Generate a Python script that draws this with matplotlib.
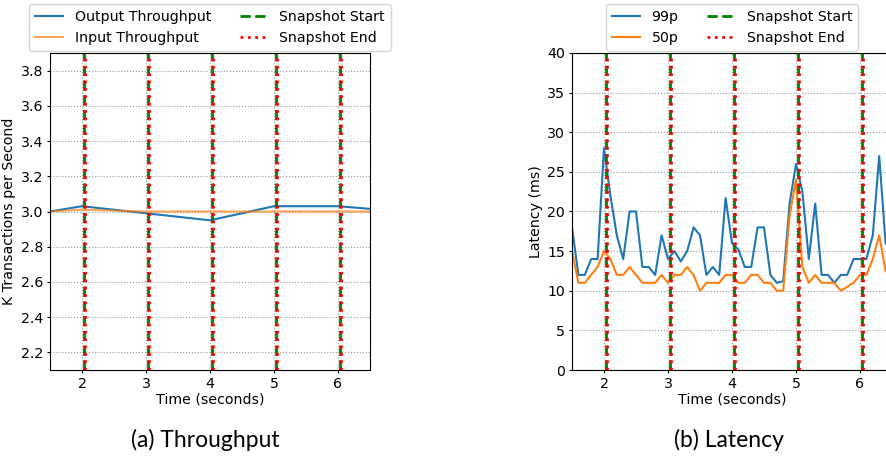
import matplotlib
matplotlib.use("Agg")
import matplotlib.pyplot as plt

# throughput, one point per second
tp_time = [1, 2, 3, 4, 5, 6, 7]
tp_output = [2.97, 3.03, 2.99, 2.95, 3.03, 3.03, 3.00]
tp_input = [2.99, 3.01, 3.00, 3.00, 3.00, 3.00, 3.00]

# latency, one point per 100 ms from 1.5 s
lat_time = [round(1.5 + 0.1 * i, 1) for i in range(51)]
lat_99 = [18, 12, 12, 14, 14, 28, 22, 17, 14, 20,
          20, 13, 13, 12, 17, 14, 15, 13.7, 15, 18,
          17, 12, 13, 12, 21.7, 16, 15.2, 13, 13, 18,
          18, 12, 11, 11.2, 21, 26, 22.5, 14, 21, 12,
          12, 11, 12, 12, 14, 14, 14, 17, 27, 16, 15]
lat_50 = [15, 11, 11, 12, 13, 15, 14, 12, 12, 13,
          12, 11, 11, 11, 12, 11, 12, 12, 13, 12,
          10, 11, 11, 11, 12, 12, 11, 11, 12, 12,
          11, 11, 10, 10, 19.5, 24, 13, 11, 12, 11,
          11, 11, 10, 10.5, 11, 12, 12, 14, 17, 12.5, 12]

snap_start = [2.025, 3.025, 4.025, 5.03, 6.03]
snap_end = [2.045, 3.04, 4.04, 5.05, 6.05]

FS = 10.2


def snapshots(ax):
    for i, (s, e) in enumerate(zip(snap_start, snap_end)):
        ax.axvline(s, color="green", linestyle="--", linewidth=2,
                   label="Snapshot Start" if i == 0 else None)
        ax.axvline(e, color="red", linestyle=":", linewidth=2,
                   label="Snapshot End" if i == 0 else None)


fig = plt.figure(figsize=(8.87, 4.61), dpi=100)
W, H = 887, 461
ax1 = fig.add_axes([50 / W, (H - 370) / H, 320 / W, 317 / H])
ax2 = fig.add_axes([572 / W, (H - 370) / H, 320 / W, 317 / H])

# (a) throughput
ax1.plot(tp_time, tp_output, color="tab:blue", linewidth=1.5, label="Output Throughput")
ax1.plot(tp_time, tp_input, color="tab:orange", alpha=0.7, linewidth=1.5, label="Input Throughput")
snapshots(ax1)
ax1.set_xlim(1.5, 6.5)
ax1.set_ylim(2.1, 3.9)
ax1.set_yticks([2.2, 2.4, 2.6, 2.8, 3.0, 3.2, 3.4, 3.6, 3.8])
ax1.set_xticks([2, 3, 4, 5, 6])
ax1.set_xlabel("Time (seconds)", fontsize=FS, labelpad=1)
ax1.set_ylabel("K Transactions per Second", fontsize=FS, labelpad=3)

# (b) latency
ax2.plot(lat_time, lat_99, color="tab:blue", linewidth=1.5, label="99p")
ax2.plot(lat_time, lat_50, color="tab:orange", linewidth=1.5, label="50p")
snapshots(ax2)
ax2.set_xlim(1.5, 6.5)
ax2.set_ylim(0, 40)
ax2.set_xticks([2, 3, 4, 5, 6])
ax2.set_xlabel("Time (seconds)", fontsize=FS, labelpad=1)
ax2.set_ylabel("Latency (ms)", fontsize=FS, labelpad=3)

for ax in (ax1, ax2):
    ax.grid(True, linestyle=":", color="0.6", linewidth=0.8)
    ax.set_axisbelow(True)
    ax.tick_params(labelsize=FS, length=2.5, pad=2.5)
    ax.legend(loc="lower center", bbox_to_anchor=(0.5, 1.0), ncol=2,
              fontsize=FS, borderaxespad=0.15)

fig.text(205 / W, 21 / H, "(a) Throughput", ha="center", va="center",
         fontsize=16.5, family="Lato")
fig.text(729 / W, 21 / H, "(b) Latency", ha="center", va="center",
         fontsize=16.5, family="Lato")

fig.savefig("out.png", dpi=100)
